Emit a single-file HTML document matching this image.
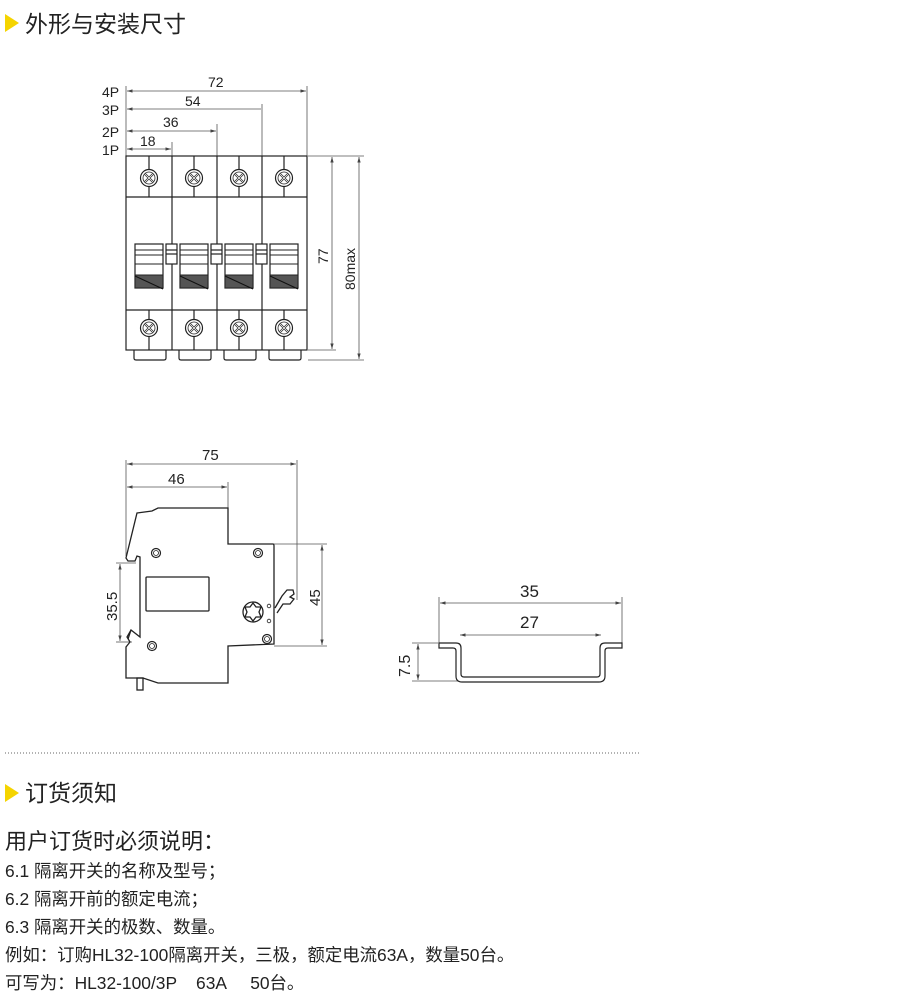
<!DOCTYPE html>
<html><head><meta charset="utf-8"><style>
html,body{margin:0;padding:0;background:#fff;}
svg{display:block;}
text{font-family:"Liberation Sans","Noto Sans CJK SC",sans-serif;fill:#222;}
</style></head><body>
<svg width="900" height="1004" viewBox="0 0 900 1004" xmlns="http://www.w3.org/2000/svg">
<defs>
<marker id="a" viewBox="0 0 10 10" refX="10" refY="5" markerWidth="7" markerHeight="7" orient="auto-start-reverse"><path d="M0,2 L10,5 L0,8 z" fill="#444"/></marker>
<g id="scr"><circle r="8.5" fill="#fff" stroke="#222" stroke-width="1.2"/><circle r="6" fill="none" stroke="#222" stroke-width="0.8"/><path d="M-4,-4 L4,4 M-4,4 L4,-4" stroke="#222" stroke-width="2.2"/><path d="M-4,-4 L4,4 M-4,4 L4,-4" stroke="#fff" stroke-width="0.8"/></g>
<g id="tog"><rect x="0" y="0" width="28" height="44" fill="#fff" stroke="#222" stroke-width="1.2"/><line x1="0" y1="6" x2="28" y2="6" stroke="#222"/><line x1="0" y1="11" x2="28" y2="11" stroke="#222"/><line x1="0" y1="20" x2="28" y2="20" stroke="#222"/><rect x="0" y="31" width="28" height="13" fill="#555" stroke="#222"/><line x1="0" y1="32" x2="28" y2="45" stroke="#111"/></g>
<g id="hole"><circle r="4.5" fill="none" stroke="#222" stroke-width="1.2"/><circle r="2.5" fill="none" stroke="#222" stroke-width="0.8"/></g>
</defs>

<polygon points="5,14 19,23 5,32" fill="#f5d400"/>
<text x="25" y="32" font-size="23">外形与安装尺寸</text>

<g stroke="#555" stroke-width="0.8" fill="none">
<line x1="126" y1="86" x2="126" y2="156"/>
<line x1="172" y1="142" x2="172" y2="156"/>
<line x1="217" y1="124" x2="217" y2="156"/>
<line x1="262" y1="104" x2="262" y2="156"/>
<line x1="307" y1="86" x2="307" y2="156"/>
<line x1="127" y1="91" x2="306" y2="91" marker-start="url(#a)" marker-end="url(#a)"/>
<line x1="127" y1="109" x2="261" y2="109" marker-start="url(#a)"/>
<line x1="127" y1="131" x2="216" y2="131" marker-start="url(#a)" marker-end="url(#a)"/>
<line x1="127" y1="149" x2="171" y2="149" marker-start="url(#a)" marker-end="url(#a)"/>
<line x1="308" y1="156" x2="364" y2="156"/>
<line x1="308" y1="350" x2="336" y2="350"/>
<line x1="308" y1="360" x2="364" y2="360"/>
<line x1="332" y1="157" x2="332" y2="349" marker-start="url(#a)" marker-end="url(#a)"/>
<line x1="359" y1="157" x2="359" y2="359" marker-start="url(#a)" marker-end="url(#a)"/>
</g>
<text x="102" y="97" font-size="14">4P</text>
<text x="102" y="115" font-size="14">3P</text>
<text x="102" y="137" font-size="14">2P</text>
<text x="102" y="155" font-size="14">1P</text>
<text x="208" y="87" font-size="14">72</text>
<text x="185" y="106" font-size="14">54</text>
<text x="163" y="127" font-size="14">36</text>
<text x="140" y="146" font-size="14">18</text>
<text transform="translate(328,264) rotate(-90)" font-size="14">77</text>
<text transform="translate(355,290) rotate(-90)" font-size="14">80max</text>

<g stroke="#222" stroke-width="1.2" fill="none">
<rect x="126" y="156" width="181" height="194"/>
<line x1="126" y1="197" x2="307" y2="197"/>
<line x1="126" y1="310" x2="307" y2="310"/>
<line x1="172" y1="156" x2="172" y2="350"/>
<line x1="217" y1="156" x2="217" y2="350"/>
<line x1="262" y1="156" x2="262" y2="350"/>
<path d="M134,350 v8 q0,2 2,2 h28 q2,0 2,-2 v-8"/>
<path d="M179,350 v8 q0,2 2,2 h28 q2,0 2,-2 v-8"/>
<path d="M224,350 v8 q0,2 2,2 h28 q2,0 2,-2 v-8"/>
<path d="M269,350 v8 q0,2 2,2 h28 q2,0 2,-2 v-8"/>
<line x1="149" y1="156" x2="149" y2="197"/><line x1="194" y1="156" x2="194" y2="197"/><line x1="239" y1="156" x2="239" y2="197"/><line x1="284" y1="156" x2="284" y2="197"/>
<line x1="149" y1="310" x2="149" y2="350"/><line x1="194" y1="310" x2="194" y2="350"/><line x1="239" y1="310" x2="239" y2="350"/><line x1="284" y1="310" x2="284" y2="350"/>
<rect x="166" y="244" width="11" height="20" fill="#fff"/><line x1="166" y1="250" x2="177" y2="250"/><line x1="166" y1="254" x2="177" y2="254"/>
<rect x="211" y="244" width="11" height="20" fill="#fff"/><line x1="211" y1="250" x2="222" y2="250"/><line x1="211" y1="254" x2="222" y2="254"/>
<rect x="256" y="244" width="11" height="20" fill="#fff"/><line x1="256" y1="250" x2="267" y2="250"/><line x1="256" y1="254" x2="267" y2="254"/>
</g>
<use href="#scr" x="149" y="178"/><use href="#scr" x="194" y="178"/><use href="#scr" x="239" y="178"/><use href="#scr" x="284" y="178"/>
<use href="#scr" x="149" y="328"/><use href="#scr" x="194" y="328"/><use href="#scr" x="239" y="328"/><use href="#scr" x="284" y="328"/>
<use href="#tog" x="135" y="244"/><use href="#tog" x="180" y="244"/><use href="#tog" x="225" y="244"/><use href="#tog" x="270" y="244"/>

<g stroke="#555" stroke-width="0.8" fill="none">
<line x1="126" y1="460" x2="126" y2="556"/>
<line x1="228" y1="482" x2="228" y2="508"/>
<line x1="297" y1="460" x2="297" y2="600"/>
<line x1="127" y1="464" x2="296" y2="464" marker-start="url(#a)" marker-end="url(#a)"/>
<line x1="127" y1="487" x2="227" y2="487" marker-start="url(#a)" marker-end="url(#a)"/>
<line x1="274" y1="544" x2="327" y2="544"/>
<line x1="274" y1="646" x2="327" y2="646"/>
<line x1="322" y1="545" x2="322" y2="645" marker-start="url(#a)" marker-end="url(#a)"/>
<line x1="116" y1="563" x2="136" y2="563"/>
<line x1="116" y1="642" x2="132" y2="642"/>
<line x1="120" y1="564" x2="120" y2="641" marker-start="url(#a)" marker-end="url(#a)"/>
</g>
<text x="202" y="460" font-size="15">75</text>
<text x="168" y="484" font-size="15">46</text>
<text transform="translate(320,606) rotate(-90)" font-size="15">45</text>
<text transform="translate(117,621) rotate(-90)" font-size="15">35.5</text>

<g stroke="#222" stroke-width="1.3" fill="none">
<path d="M137,513 L152,511 L158,508 L228,508 L228,544 L273,544 Q274,544 274,546 L274,644 L228,646 L228,683 L158,683 L143,678 L126,678 L126,647 L130,642 L127,637 L131,630 L140,637 L140,557 L137,556 L135,561 L128,561 L126,558 Z"/>
<line x1="131" y1="630" x2="128" y2="639"/>
<rect x="146" y="577" width="63" height="34" rx="1"/>
<rect x="137" y="678" width="6" height="12"/>
<path d="M275,608 L282,596 L287,590 L293,590 L294,594 L290,597 L294,599 L290,604 L283,604 L277,613"/>
<path d="M253,603 l3,4 l5,0 l-2,5 l2,5 l-5,0 l-3,4 l-3,-4 l-5,0 l2,-5 l-2,-5 l5,0 z"/>
<circle cx="253" cy="612" r="10"/>
<circle cx="269" cy="606" r="1.8" stroke-width="0.8"/>
<circle cx="269" cy="621" r="1.8" stroke-width="0.8"/>
</g>
<use href="#hole" x="156" y="553"/><use href="#hole" x="258" y="553"/><use href="#hole" x="152" y="646"/><use href="#hole" x="267" y="639"/>

<g stroke="#555" stroke-width="0.8" fill="none">
<line x1="439" y1="597" x2="439" y2="643"/>
<line x1="622" y1="597" x2="622" y2="643"/>
<line x1="440" y1="603" x2="621" y2="603" marker-start="url(#a)" marker-end="url(#a)"/>
<line x1="460" y1="635" x2="601" y2="635" marker-start="url(#a)" marker-end="url(#a)"/>
<line x1="412" y1="643" x2="438" y2="643"/>
<line x1="412" y1="681" x2="462" y2="681"/>
<line x1="418" y1="644" x2="418" y2="680" marker-start="url(#a)" marker-end="url(#a)"/>
</g>
<path d="M439,643 L456,643 Q461,643 461,648 L461,674 Q461,677 464,677 L597,677 Q600,677 600,674 L600,648 Q600,643 605,643 L622,643 L622,648 L608,648 Q605,648 605,651 L605,676 Q605,682 599,682 L462,682 Q456,682 456,676 L456,651 Q456,648 453,648 L439,648 Z" fill="#fff" stroke="#222" stroke-width="1.2"/>
<text x="520" y="597" font-size="17">35</text>
<text x="520" y="628" font-size="17">27</text>
<text transform="translate(410,677) rotate(-90)" font-size="16">7.5</text>

<line x1="5" y1="753" x2="640" y2="753" stroke="#666" stroke-width="1" stroke-dasharray="1,2"/>

<polygon points="5,784 19,793 5,802" fill="#f5d400"/>
<text x="25" y="801" font-size="23">订货须知</text>

<text x="5" y="849" font-size="22">用户订货时必须说明：</text>
<text x="5" y="877" font-size="17.4">6.1 隔离开关的名称及型号；</text>
<text x="5" y="905" font-size="17.4">6.2 隔离开前的额定电流；</text>
<text x="5" y="933" font-size="17.4">6.3 隔离开关的极数、数量。</text>
<text x="5" y="961" font-size="17.4">例如：订购HL32-100隔离开关，三极，额定电流63A，数量50台。</text>
<text x="5" y="989" font-size="17.4" xml:space="preserve">可写为：HL32-100/3P    63A     50台。</text>
</svg>
</body></html>
